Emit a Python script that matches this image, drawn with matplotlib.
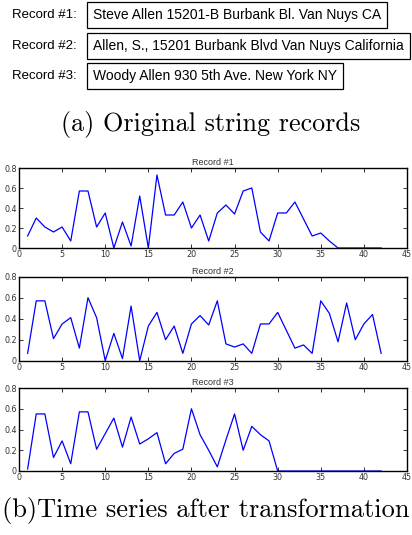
import numpy as np
import matplotlib.pyplot as plt

# Daten: Original-Datensaetze und transformierte Zeitreihen
labels = ["Record #1:", "Record #2:", "Record #3:"]
strings = ["Steve Allen 15201-B Burbank Bl. Van Nuys CA",
           "Allen, S., 15201 Burbank Blvd Van Nuys California",
           "Woody Allen 930 5th Ave. New York NY"]
titles = ["Record #1", "Record #2", "Record #3"]

x = np.arange(1, 43)
rec1 = [0.12, 0.30, 0.21, 0.16, 0.21, 0.07, 0.57, 0.57, 0.21, 0.35,
        0.0, 0.26, 0.02, 0.52, 0.0, 0.73, 0.33, 0.33, 0.46, 0.20,
        0.33, 0.07, 0.35, 0.43, 0.34, 0.57, 0.60, 0.16, 0.07, 0.35,
        0.35, 0.46, 0.29, 0.12, 0.15, 0.07, 0.0, 0.0, 0.0, 0.0,
        0.0, 0.0]
rec2 = [0.07, 0.57, 0.57, 0.21, 0.35, 0.41, 0.12, 0.60, 0.41, 0.0,
        0.26, 0.02, 0.52, 0.0, 0.33, 0.46, 0.20, 0.33, 0.07, 0.35,
        0.43, 0.34, 0.57, 0.16, 0.13, 0.16, 0.07, 0.35, 0.35, 0.46,
        0.29, 0.12, 0.15, 0.07, 0.57, 0.45, 0.18, 0.55, 0.20, 0.35,
        0.44, 0.07]
rec3 = [0.02, 0.55, 0.55, 0.13, 0.29, 0.07, 0.57, 0.57, 0.21, 0.36,
        0.51, 0.23, 0.52, 0.26, 0.31, 0.37, 0.07, 0.17, 0.21, 0.60,
        0.35, 0.20, 0.04, 0.30, 0.55, 0.20, 0.43, 0.35, 0.29, 0.0,
        0.0, 0.0, 0.0, 0.0, 0.0, 0.0, 0.0, 0.0, 0.0, 0.0,
        0.0, 0.0]
series = [rec1, rec2, rec3]

xticks = np.arange(0, 46, 5)
yticks = [0, 0.2, 0.4, 0.6, 0.8]
ytick_labels = ["0", "0.2", "0.4", "0.6", "0.8"]

W, H = 412, 535
fig = plt.figure(figsize=(W / 100, H / 100), dpi=100)

# --------------------- Teil (a): Textfelder ---------------------
row_y = [15, 46, 76]
for lab, s, yy in zip(labels, strings, row_y):
    fig.text(12 / W, 1 - yy / H, lab, fontsize=9.5, family="Liberation Sans",
             va="center", ha="left")
    fig.text(93 / W, 1 - yy / H, s, fontsize=10, family="Liberation Sans",
             va="center", ha="left",
             bbox=dict(facecolor="white", edgecolor="black", boxstyle="square,pad=0.45", lw=0.9))

fig.text(211 / W, 1 - 125 / H, "(a) Original string records", fontsize=18.8,
         family="cmr10", ha="center", va="center")

# --------------------- Teil (b): Zeitreihen ---------------------
ax_pos = [(248, 168), (360.7, 276.7), (471, 388)]  # (unten, oben) in Pixel
for (yb, yt), ys, tt in zip(ax_pos, series, titles):
    ax = fig.add_axes([19 / W, 1 - yb / H, 388 / W, (yb - yt) / H])
    ax.plot(x, ys, color="#0000ff", lw=0.9)
    ax.set_xlim(0, 45)
    ax.set_ylim(0, 0.8)
    ax.set_xticks(xticks)
    ax.set_yticks(yticks)
    ax.set_yticklabels(ytick_labels)
    ax.tick_params(direction="in", top=True, right=True, labelsize=5.8,
                   length=3, width=0.7, pad=1.5, colors="#333333")
    for sp in ax.spines.values():
        sp.set_linewidth(1.0)
    ax.set_title(tt, fontsize=6.5, family="Liberation Sans", color="#333333", pad=2)

fig.text(0.5, 1 - 510 / H, "(b)Time series after transformation", fontsize=19,
         family="cmr10", ha="center", va="center")

fig.savefig("out.png", dpi=100)
